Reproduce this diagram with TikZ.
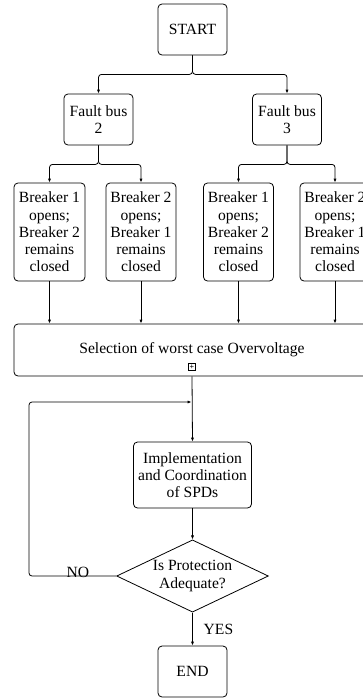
\documentclass[tikz,border=0pt]{standalone}
\usepackage{fontspec}
\setmainfont{Liberation Serif}
\usetikzlibrary{arrows.meta,positioning,shapes.geometric}

\tikzset{
  flowbox/.style={draw, rounded corners=4pt, align=center, inner sep=0pt},
  tip/.style={-{Latex[length=4pt,width=3.2pt]}},
  link/.style={line width=0.8pt, rounded corners=3pt}
}

\begin{document}
\begin{tikzpicture}[x=1pt, y=-1pt, line width=0.8pt,
  font=\fontsize{15.6}{17.3}\selectfont]
\useasboundingbox (0,0) rectangle (363,699);
\clip (0,0) rectangle (363,699);

% boxes
\node[flowbox, minimum width=69, minimum height=51] (start) at (192.5,29.5) {START};
\node[flowbox, minimum width=69, minimum height=51] (fb2) at (98.5,119.5) {Fault bus\\2};
\node[flowbox, minimum width=69, minimum height=51] (fb3) at (287,119.5) {Fault bus\\3};

\node[flowbox, minimum width=71, minimum height=98] (b1) at (49.5,232) {Breaker 1\\opens;\\Breaker 2\\remains\\closed};
\node[flowbox, minimum width=70, minimum height=98] (b2) at (141,232) {Breaker 2\\opens;\\Breaker 1\\remains\\closed};
\node[flowbox, minimum width=70, minimum height=98] (b3) at (238.5,232) {Breaker 1\\opens;\\Breaker 2\\remains\\closed};
\node[flowbox, minimum width=70, minimum height=98] (b4) at (335,232) {Breaker 2\\opens;\\Breaker 1\\remains\\closed};

\node[flowbox, minimum width=356, minimum height=52] (sel) at (192,350) {Selection of worst case Overvoltage};
\node[draw, line width=0.6pt, minimum size=7, inner sep=0pt, font=\fontsize{8}{8}\selectfont\bfseries] (plus) at (192,367) {+};

\node[flowbox, minimum width=118, minimum height=66] (impl) at (192.5,475) {Implementation\\and Coordination\\of SPDs};
\node[draw, diamond, aspect=2.1, inner sep=1.2pt, align=center] (check) at (192.5,576) {Is Protection\\Adequate?};
\node[flowbox, minimum width=69, minimum height=51] (stop) at (192.5,671.5) {END};

% connectors
\draw[link, tip] (start.south) -- ++(0,19) -| (fb2.north);
\draw[link, tip] (start.south) -- ++(0,19) -| (fb3.north);
\draw[link, tip] (fb2.south) -- ++(0,19) -| (b1.north);
\draw[link, tip] (fb2.south) -- ++(0,19) -| (b2.north);
\draw[link, tip] (fb3.south) -- ++(0,19) -| (b3.north);
\draw[link, tip] (fb3.south) -- ++(0,19) -| (b4.north);

\foreach \b in {b1,b2,b3,b4}
  \draw[tip] (\b.south) -- (\b.south |- sel.north);

\draw[tip] (sel.south) -- (impl.north);
\draw[tip] (impl.south) -- (check.north);
\draw[tip] (check.south) -- (stop.north);

\coordinate (back) at (29,402);
\coordinate (join) at (191.5,402);
\draw[link, tip] (check.west) -| (back) -- (join);

\node (nolbl) at (78,572) {NO};
\node[anchor=west] (yeslbl) at (200,629) {YES};
\end{tikzpicture}
\end{document}
